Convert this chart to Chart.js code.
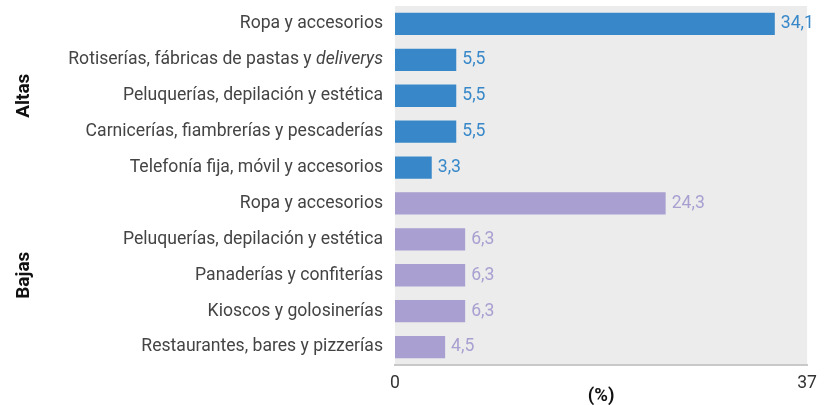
<!DOCTYPE html>
<html>
<head>
<meta charset="utf-8">
<script src="https://cdn.jsdelivr.net/npm/chart.js@4.4.1/dist/chart.umd.min.js"></script>
<style>
  body { margin: 0; background: #fff; }
</style>
</head>
<body>
<canvas id="myChart" width="825" height="405"></canvas>
<script>
const categories = [
    'Ropa y accesorios',
    'Rotiserías, fábricas de pastas y deliverys',
    'Peluquerías, depilación y estética',
    'Carnicerías, fiambrerías y pescaderías',
    'Telefonía fija, móvil y accesorios',
    'Ropa y accesorios',
    'Peluquerías, depilación y estética',
    'Panaderías y confiterías',
    'Kioscos y golosinerías',
    'Restaurantes, bares y pizzerías'
];
const values = [34.1, 5.5, 5.5, 5.5, 3.3, 24.3, 6.3, 6.3, 6.3, 4.5];
const groups = ['Altas', 'Altas', 'Altas', 'Altas', 'Altas', 'Bajas', 'Bajas', 'Bajas', 'Bajas', 'Bajas'];
const xTicks = [0, 37];
const italicWord = 'deliverys';

const FONT = 'Roboto, "Liberation Sans", sans-serif';
const LABEL_SIZE = 17.6;
const groupColors = { Altas: '#3888c9', Bajas: '#a99fd1' };
const barColors = groups.map(g => groupColors[g]);

const fmt = v => v.toFixed(1).replace('.', ',');

// gray plot background
const plotBackground = {
    id: 'plotBackground',
    beforeDraw(chart) {
        const { ctx, chartArea } = chart;
        ctx.save();
        ctx.fillStyle = '#ececec';
        ctx.fillRect(chartArea.left, chartArea.top, chartArea.right - chartArea.left, chartArea.bottom - chartArea.top);
        ctx.restore();
    }
};

// category labels (drawn here so "deliverys" can be italic)
const categoryLabels = {
    id: 'categoryLabels',
    afterDraw(chart) {
        const { ctx } = chart;
        const yScale = chart.scales.y;
        const right = chart.chartArea.left - 12;
        ctx.save();
        ctx.textBaseline = 'middle';
        ctx.textAlign = 'right';
        ctx.fillStyle = '#444';
        categories.forEach((label, i) => {
            const y = yScale.getPixelForTick(i);
            const idx = label.indexOf(italicWord);
            if (idx >= 0) {
                const head = label.slice(0, idx);
                ctx.font = 'italic ' + LABEL_SIZE + 'px ' + FONT;
                const wItalic = ctx.measureText(italicWord).width;
                ctx.fillText(italicWord, right, y);
                ctx.font = LABEL_SIZE + 'px ' + FONT;
                ctx.fillText(head, right - wItalic, y);
            } else {
                ctx.font = LABEL_SIZE + 'px ' + FONT;
                ctx.fillText(label, right, y);
            }
        });
        ctx.restore();
    }
};

// group labels and value labels
const extraLabels = {
    id: 'extraLabels',
    afterDatasetsDraw(chart) {
        const { ctx } = chart;
        const meta = chart.getDatasetMeta(0);
        const yScale = chart.scales.y;
        ctx.save();
        ctx.font = LABEL_SIZE + 'px ' + FONT;
        ctx.textBaseline = 'middle';
        ctx.textAlign = 'left';
        meta.data.forEach((bar, i) => {
            ctx.fillStyle = barColors[i];
            ctx.fillText(fmt(values[i]), bar.x + 6, bar.y);
        });

        const names = [...new Set(groups)];
        ctx.font = 'bold 19px ' + FONT;
        ctx.fillStyle = '#111';
        ctx.textAlign = 'center';
        names.forEach(name => {
            const first = groups.indexOf(name);
            const last = groups.lastIndexOf(name);
            const y = (yScale.getPixelForTick(first) + yScale.getPixelForTick(last)) / 2;
            ctx.save();
            ctx.translate(24, y);
            ctx.rotate(-Math.PI / 2);
            ctx.fillText(name, 0, 0);
            ctx.restore();
        });
        ctx.restore();
    }
};

const ctx = document.getElementById('myChart').getContext('2d');
const myChart = new Chart(ctx, {
    type: 'bar',
    data: {
        labels: categories,
        datasets: [{
            data: values,
            backgroundColor: barColors,
            borderWidth: 0,
            categoryPercentage: 0.62,
            barPercentage: 1
        }]
    },
    options: {
        indexAxis: 'y',
        responsive: false,
        animation: false,
        layout: { padding: { top: 6, right: 0, left: 0, bottom: 0 } },
        plugins: {
            legend: { display: false },
            tooltip: { enabled: false }
        },
        scales: {
            x: {
                min: 0,
                max: 37,
                afterBuildTicks: scale => {
                    scale.ticks = xTicks.map(v => ({ value: v }));
                },
                afterFit: scale => { scale.height = 40; },
                grid: { display: false, drawTicks: false },
                border: { display: true, color: '#c9c9c9', width: 2 },
                ticks: {
                    color: '#333',
                    font: { family: FONT, size: 17.6 },
                    padding: 8,
                    maxRotation: 0
                },
                title: {
                    display: true,
                    text: '(%)',
                    color: '#111',
                    font: { family: FONT, size: 18.5, weight: 'bold' },
                    padding: { top: 0, bottom: -2 }
                }
            },
            y: {
                grid: { display: false, drawTicks: false },
                border: { display: false },
                ticks: { display: false },
                afterFit: scale => { scale.width = 395; }
            }
        }
    },
    plugins: [plotBackground, categoryLabels, extraLabels]
});
</script>
</body>
</html>
